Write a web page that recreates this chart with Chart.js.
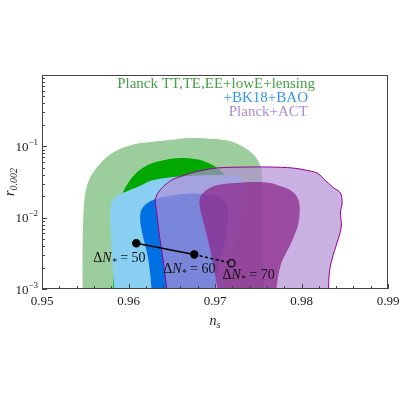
<!DOCTYPE html>
<html>
<head>
<meta charset="utf-8">
<script src="https://cdn.jsdelivr.net/npm/chart.js"></script>
<style>
  html, body { margin: 0; padding: 0; background: #fff; }
  canvas { display: block; }
</style>
</head>
<body>
<canvas id="myChart" width="400" height="400"></canvas>
<script>
// contours, clockwise from bottom-left; the first and last
// points sit below r = 1e-3 so the shapes run off the bottom of the frame
const planck2_ns = [0.9547, 0.9547, 0.9549, 0.9553, 0.9561, 0.9575, 0.9590, 0.9608, 0.9625, 0.9648, 0.9671, 0.9700, 0.9717, 0.9735, 0.9746, 0.9753, 0.9755, 0.9755, 0.9757]
const planck2_r  = [0.0007, 0.00486, 0.0177, 0.0306, 0.0466, 0.0709, 0.0918, 0.108, 0.115, 0.123, 0.131, 0.127, 0.119, 0.0948, 0.0732, 0.0513, 0.0244, 0.00672, 0.0007]

const planck1_ns = [0.9582, 0.9583, 0.9587, 0.9592, 0.9602, 0.9613, 0.9628, 0.9648, 0.9665, 0.9683, 0.9697, 0.9708, 0.9717, 0.9721, 0.9719, 0.9713, 0.9708]
const planck1_r  = [0.0007, 0.00486, 0.0128, 0.0208, 0.0338, 0.0466, 0.0584, 0.0665, 0.0687, 0.0643, 0.0547, 0.0437, 0.0287, 0.0177, 0.00672, 0.00255, 0.0007]

const bk2_ns = [0.9584, 0.9580, 0.9579, 0.9581, 0.9588, 0.9599, 0.9613, 0.9625, 0.9642, 0.9671, 0.9700, 0.9727, 0.9735, 0.9732, 0.9723, 0.9712, 0.9708]
const bk2_r  = [0.0007, 0.00486, 0.0128, 0.0171, 0.0208, 0.0237, 0.0278, 0.0327, 0.0360, 0.0384, 0.0396, 0.0372, 0.0287, 0.0128, 0.00486, 0.00185, 0.0007]

const bk1_ns = [0.9628, 0.9623, 0.9614, 0.9614, 0.9619, 0.9631, 0.9646, 0.9665, 0.9688, 0.9708, 0.9715, 0.9712, 0.9703, 0.9700]
const bk1_r  = [0.0007, 0.00255, 0.00789, 0.0120, 0.0151, 0.0183, 0.0201, 0.0215, 0.0215, 0.0189, 0.0128, 0.00486, 0.00185, 0.0007]

const act2_ns = [0.9646, 0.9640, 0.9636, 0.9633, 0.9631, 0.9634, 0.9641, 0.9650, 0.9662, 0.9677, 0.9702, 0.9740, 0.9764, 0.9790, 0.9804, 0.9818, 0.9827, 0.9836, 0.9845, 0.9847, 0.9845, 0.9846, 0.9841, 0.9835, 0.9832, 0.9831]
const act2_r  = [0.0007, 0.00255, 0.00536, 0.0109, 0.0177, 0.0222, 0.0278, 0.0338, 0.0384, 0.0437, 0.0497, 0.0513, 0.0513, 0.0497, 0.0466, 0.0423, 0.0338, 0.0269, 0.0222, 0.0161, 0.0120, 0.0074, 0.00442, 0.00255, 0.00161, 0.0007]

const act1_ns = [0.9705, 0.9697, 0.9691, 0.9686, 0.9682, 0.9683, 0.9690, 0.9703, 0.9723, 0.9746, 0.9764, 0.9775, 0.9787, 0.9795, 0.9798, 0.9796, 0.9788, 0.9776, 0.9769]
const act1_r  = [0.0007, 0.00255, 0.00536, 0.00927, 0.0151, 0.0195, 0.0244, 0.0287, 0.0306, 0.0316, 0.0306, 0.0278, 0.0244, 0.0195, 0.0137, 0.00789, 0.00442, 0.00217, 0.0007]

// model predictions
const efolds    = [50, 60, 70]
const model_ns  = [0.9609, 0.9676, 0.9719]
const model_r   = [0.00437, 0.00305, 0.0023]

const legendLines = ['Planck TT,TE,EE+lowE+lensing', '+BK18+BAO', 'Planck+ACT']
const xTicks = [0.95, 0.96, 0.97, 0.98, 0.99]
const xTickLabels = ['0.95', '0.96', '0.97', '0.98', '0.99']
const yTicks = [0.001, 0.01, 0.1]
const yTickExp = ['\u22123', '\u22122', '\u22121']

const serif = '"Liberation Serif", "DejaVu Serif", serif'

function pts(xs, ys) {
  return xs.map((x, i) => ({x: x, y: ys[i]}))
}

function contour(ns, r, color, order, border) {
  return {
    data: pts(ns, r),
    showLine: true,
    fill: 'shape',
    backgroundColor: color,
    borderColor: border || color,
    borderWidth: border ? 1 : 0,
    pointRadius: 0,
    tension: 0.3,
    order: order,
    clip: 0
  }
}

// draws text pieces one after another: [text, size, italic, dy]
function rich(ctx, parts, x, y) {
  parts.forEach(p => {
    ctx.font = (p[2] ? 'italic ' : '') + p[1] + 'px ' + serif
    ctx.fillText(p[0], x, y + (p[3] || 0))
    x += ctx.measureText(p[0]).width
  })
  return x
}
function richWidth(ctx, parts) {
  let w = 0
  parts.forEach(p => {
    ctx.font = (p[2] ? 'italic ' : '') + p[1] + 'px ' + serif
    w += ctx.measureText(p[0]).width
  })
  return w
}

const decor = {
  id: 'decor',
  afterDatasetsDraw(chart) {
    const ctx = chart.ctx, a = chart.chartArea
    const xs = chart.scales.x, ys = chart.scales.y
    ctx.save()

    // frame
    ctx.strokeStyle = '#444'
    ctx.lineWidth = 1
    ctx.strokeRect(a.left + 0.5, a.top + 0.5, a.right - a.left - 1, a.bottom - a.top - 1)

    // inward ticks
    ctx.beginPath()
    for (let i = 0; i <= 20; i++) {
      const v = 0.95 + i * 0.002
      const px = Math.round(xs.getPixelForValue(v)) + 0.5
      const len = i % 5 == 0 ? 5 : 3
      ctx.moveTo(px, a.bottom)
      ctx.lineTo(px, a.bottom - len)
    }
    for (let d = -3; d < 0; d++) {
      for (let m = 1; m <= 9; m++) {
        const py = Math.round(ys.getPixelForValue(m * Math.pow(10, d))) + 0.5
        const len = m == 1 ? 5 : 3
        ctx.moveTo(a.left, py)
        ctx.lineTo(a.left + len, py)
      }
    }
    ctx.stroke()

    // tick labels
    ctx.fillStyle = '#222'
    ctx.textBaseline = 'alphabetic'
    ctx.textAlign = 'left'
    xTicks.forEach((v, i) => {
      ctx.font = '13px ' + serif
      const w = ctx.measureText(xTickLabels[i]).width
      ctx.fillText(xTickLabels[i], xs.getPixelForValue(v) - w / 2, a.bottom + 16)
    })
    yTicks.forEach((v, i) => {
      const parts = [['10', 13, false, 0], [yTickExp[i], 9, false, -6]]
      const w = richWidth(ctx, parts)
      rich(ctx, parts, a.left - 4 - w, ys.getPixelForValue(v) + 4.5)
    })

    // axis titles
    const nsParts = [['n', 14, true, 0], ['s', 10, true, 3]]
    rich(ctx, nsParts, (a.left + a.right) / 2 - richWidth(ctx, nsParts) / 2, 325)
    ctx.save()
    const rParts = [['r', 14, true, 0], ['0.002', 10, true, 3]]
    ctx.translate(14, (a.top + a.bottom) / 2)
    ctx.rotate(-Math.PI / 2)
    rich(ctx, rParts, -richWidth(ctx, rParts) / 2, 0)
    ctx.restore()

    // legend text
    ctx.font = '15px ' + serif
    ctx.fillStyle = 'rgb(70,160,70)'
    ctx.fillText(legendLines[0], 315 - ctx.measureText(legendLines[0]).width, 88)
    ctx.fillStyle = 'rgb(50,150,240)'
    ctx.fillText(legendLines[1], 308 - ctx.measureText(legendLines[1]).width, 102)
    ctx.fillStyle = 'rgb(170,140,212)'
    ctx.fillText(legendLines[2], 308 - ctx.measureText(legendLines[2]).width, 116)

    // e-fold labels, placed below-left of each point
    const offs = [[-43, 19], [-31, 19], [-9, 16]]
    ctx.fillStyle = '#111'
    efolds.forEach((n, i) => {
      const px = xs.getPixelForValue(model_ns[i]), py = ys.getPixelForValue(model_r[i])
      rich(ctx, [['\u0394', 14, false], ['N', 14, true], ['*', 10, true, 3], [' = ' + n, 14, false]],
        px + offs[i][0], py + offs[i][1])
    })
    ctx.restore()
  }
}

const config = {
  type: 'scatter',
  data: {
    datasets: [
      contour(planck2_ns, planck2_r, 'rgb(156,205,156)', 7),
      contour(planck1_ns, planck1_r, 'rgb(0,168,0)', 6),
      contour(bk2_ns, bk2_r, 'rgb(137,207,242)', 5),
      contour(bk1_ns, bk1_r, 'rgb(0,112,226)', 4),
      contour(act2_ns, act2_r, 'rgba(177,143,213,0.69)', 3, 'rgb(150,0,150)'),
      contour(act1_ns, act1_r, 'rgba(140,40,140,0.75)', 2),
      {
        data: pts(model_ns, model_r),
        showLine: true,
        borderColor: '#000',
        borderWidth: 1.5,
        segment: { borderDash: ctx => ctx.p1DataIndex == 2 ? [3, 2.5] : undefined },
        pointRadius: 3.6,
        pointBorderWidth: 1.2,
        pointBorderColor: '#000',
        pointBackgroundColor: ['#000', '#000', 'rgba(0,0,0,0)'],
        order: 1,
        clip: 0
      }
    ]
  },
  options: {
    responsive: false,
    animation: false,
    devicePixelRatio: 1,
    layout: { padding: { top: 75, right: 12, bottom: 70, left: 0 } },
    plugins: { legend: { display: false }, tooltip: { enabled: false } },
    scales: {
      x: {
        type: 'linear', min: 0.95, max: 0.99,
        ticks: { display: false }, grid: { display: false }, border: { display: false },
        afterFit: s => { s.height = 41 }
      },
      y: {
        type: 'logarithmic', min: 0.001, max: 1,
        ticks: { display: false }, grid: { display: false }, border: { display: false },
        afterFit: s => { s.width = 42 }
      }
    }
  },
  plugins: [decor]
}

const myChart = new Chart(document.getElementById('myChart'), config)
</script>
</body>
</html>
